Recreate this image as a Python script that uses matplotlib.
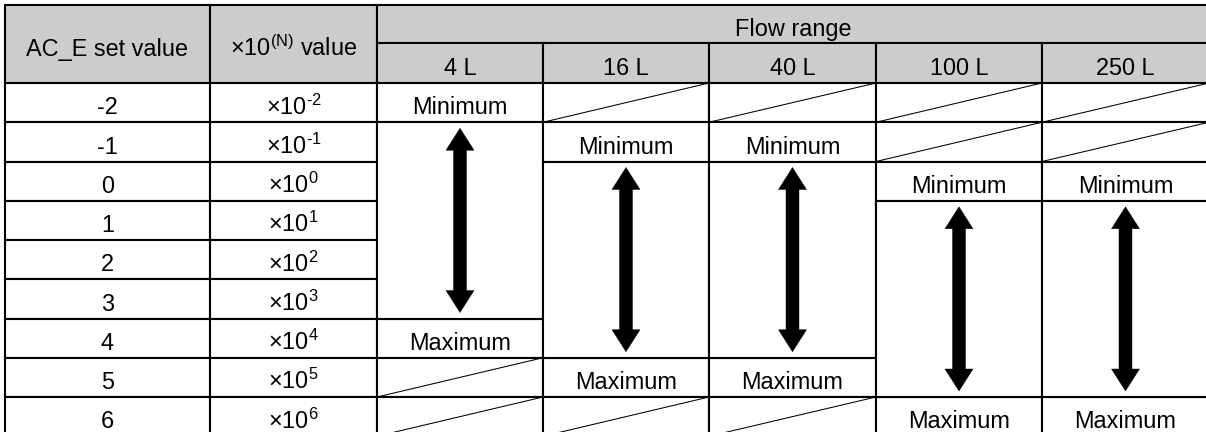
import matplotlib
matplotlib.use("Agg")
import matplotlib.pyplot as plt
from matplotlib.patches import Rectangle, Polygon

# ---- data ----
ac_e_values = [-2, -1, 0, 1, 2, 3, 4, 5, 6]
flow_ranges = ["4 L", "16 L", "40 L", "100 L", "250 L"]
range_min = [-2, -1, -1, 0, 0]
range_max = [4, 5, 5, 6, 6]
header_set = "AC_E set value"
header_mult = r"×10$^{\mathregular{(N)}}$ value"
header_flow = "Flow range"
label_min = "Minimum"
label_max = "Maximum"

# ---- style / layout ----
plt.rcParams["font.family"] = ["Liberation Sans", "DejaVu Sans"]
plt.rcParams["mathtext.fontset"] = "custom"
plt.rcParams["mathtext.rm"] = "Liberation Sans"
plt.rcParams["mathtext.it"] = "Liberation Sans:italic"
plt.rcParams["mathtext.bf"] = "Liberation Sans:bold"

W, H = 1206, 432
FS = 16.9
LW = 1.5
DLW = 0.75
GREY = "#cccccc"
col_edges = [5, 210, 377, 543, 709, 876, 1042, 1209]
top, hsplit, hbottom = 5, 43, 83
row_h = 39.25
base_off = 11.8
shaft_w, head_w, head_l, tip_gap = 13, 28, 22, 6

fig = plt.figure(figsize=(W / 100, H / 100), dpi=100)
ax = fig.add_axes([0, 0, 1, 1])
ax.set_xlim(0, W)
ax.set_ylim(H, 0)
ax.axis("off")


def cell(x0, x1, y0, y1, fill="white"):
    ax.add_patch(Rectangle((x0, y0), x1 - x0, y1 - y0, facecolor=fill,
                           edgecolor="black", linewidth=LW, zorder=2))


def txt(x0, x1, y0, y1, s):
    ax.text((x0 + x1) / 2, (y0 + y1) / 2 + base_off, s, ha="center",
            va="baseline", fontsize=FS, color="black", zorder=4)


def row_y(v):
    r = ac_e_values.index(v)
    return hbottom + r * row_h


def double_arrow(xc, ya, yb):
    t, b = ya + tip_gap, yb - tip_gap
    s, h = shaft_w / 2, head_w / 2
    pts = [(xc, t), (xc + h, t + head_l), (xc + s, t + head_l),
           (xc + s, b - head_l), (xc + h, b - head_l), (xc, b),
           (xc - h, b - head_l), (xc - s, b - head_l),
           (xc - s, t + head_l), (xc - h, t + head_l)]
    ax.add_patch(Polygon(pts, closed=True, facecolor="black",
                         edgecolor="black", linewidth=0.3, zorder=4))


def sup_label(v):
    return "×10$^{\\mathregular{%s}}$" % (("\\text{-}%d" % -v) if v < 0 else str(v))


# header
cell(col_edges[0], col_edges[1], top, hbottom, GREY)
txt(col_edges[0], col_edges[1], top, hbottom, header_set)
cell(col_edges[1], col_edges[2], top, hbottom, GREY)
txt(col_edges[1], col_edges[2], top, hbottom, header_mult)
cell(col_edges[2], col_edges[-1], top, hsplit, GREY)
txt(col_edges[2], col_edges[-1], top, hsplit, header_flow)
for i, fr in enumerate(flow_ranges):
    x0, x1 = col_edges[2 + i], col_edges[3 + i]
    cell(x0, x1, hsplit, hbottom, GREY)
    txt(x0, x1, hsplit, hbottom, fr)

# left columns
for v in ac_e_values:
    y0 = row_y(v)
    y1 = y0 + row_h
    cell(col_edges[0], col_edges[1], y0, y1)
    txt(col_edges[0], col_edges[1], y0, y1, str(v))
    cell(col_edges[1], col_edges[2], y0, y1)
    txt(col_edges[1], col_edges[2], y0, y1, sup_label(v))

# flow range columns
for i in range(len(flow_ranges)):
    x0, x1 = col_edges[2 + i], col_edges[3 + i]
    lo, hi = range_min[i], range_max[i]
    for v in ac_e_values:
        y0 = row_y(v)
        y1 = y0 + row_h
        if v < lo or v > hi:
            cell(x0, x1, y0, y1)
            ax.plot([x0, x1], [y1, y0], color="black", lw=DLW, zorder=3)
        elif v == lo:
            cell(x0, x1, y0, y1)
            txt(x0, x1, y0, y1, label_min)
        elif v == hi:
            cell(x0, x1, y0, y1)
            txt(x0, x1, y0, y1, label_max)
    # merged arrow cell
    ya = row_y(lo + 1)
    yb = row_y(hi)
    cell(x0, x1, ya, yb)
    double_arrow((x0 + x1) / 2, ya, yb)

fig.savefig("out.png", dpi=100)
